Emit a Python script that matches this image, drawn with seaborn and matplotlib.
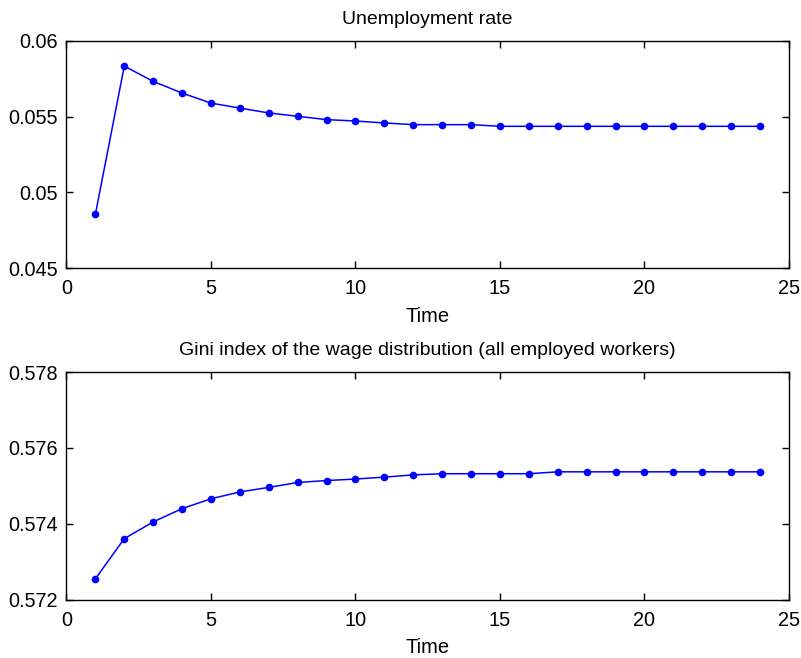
import numpy as np
import pandas as pd
import matplotlib as mpl
import matplotlib.pyplot as plt
import seaborn as sns

time = list(range(1, 25))
unemp = [0.04856, 0.05833, 0.05732, 0.05655, 0.05589, 0.05556, 0.05524, 0.05502,
         0.05480, 0.05471, 0.05458, 0.05447, 0.05447, 0.05447, 0.05436, 0.05436,
         0.05436, 0.05436, 0.05436, 0.05436, 0.05436, 0.05436, 0.05436, 0.05436]
gini = [0.57255, 0.57361, 0.57405, 0.57440, 0.57466, 0.57484, 0.57496, 0.57509,
        0.57514, 0.57518, 0.57523, 0.57529, 0.57532, 0.57532, 0.57532, 0.57532,
        0.57537, 0.57537, 0.57537, 0.57537, 0.57537, 0.57537, 0.57537, 0.57537]

titles = ["Unemployment rate",
          "Gini index of the wage distribution (all employed workers)"]
ylims = [(0.045, 0.06), (0.572, 0.578)]
yticks = [[0.045, 0.05, 0.055, 0.06], [0.572, 0.574, 0.576, 0.578]]
yticklabels = [["0.045", "0.05", "0.055", "0.06"],
               ["0.572", "0.574", "0.576", "0.578"]]

sns.set_style("ticks")
plt.rcParams["font.family"] = ["Liberation Sans", "DejaVu Sans"]
mpl.rcParams["axes.linewidth"] = 1.0
mpl.rcParams["text.color"] = "black"
mpl.rcParams["axes.labelcolor"] = "black"

df = pd.DataFrame({"Time": time, "unemp": unemp, "gini": gini})

fig = plt.figure(figsize=(8.01, 6.58), dpi=100)
ax1 = fig.add_axes([0.083, 0.5922, 0.902, 0.3459])
ax2 = fig.add_axes([0.083, 0.0886, 0.902, 0.3460])

for ax, col, title, yl, yt, ytl in zip([ax1, ax2], ["unemp", "gini"], titles,
                                       ylims, yticks, yticklabels):
    sns.lineplot(data=df, x="Time", y=col, ax=ax, color="#0000ff", marker="o",
                 markersize=5.5, markeredgewidth=0, linewidth=1.1)
    ax.set_xlim(0, 25)
    ax.set_ylim(*yl)
    ax.set_xticks([0, 5, 10, 15, 20, 25])
    ax.set_yticks(yt)
    ax.set_yticklabels(ytl)
    ax.tick_params(direction="in", length=5, width=1, top=True, right=True,
                   labelsize=14.3, colors="black")
    ax.tick_params(axis="x", pad=8)
    ax.tick_params(axis="y", pad=6)
    ax.set_xlabel("Time", fontsize=14.5, labelpad=6, color="black")
    ax.set_ylabel("")
    ax.set_title(title, fontsize=14, pad=12, color="black")
    for s in ax.spines.values():
        s.set_visible(True)
        s.set_color("black")

fig.savefig("out.png", dpi=100)
